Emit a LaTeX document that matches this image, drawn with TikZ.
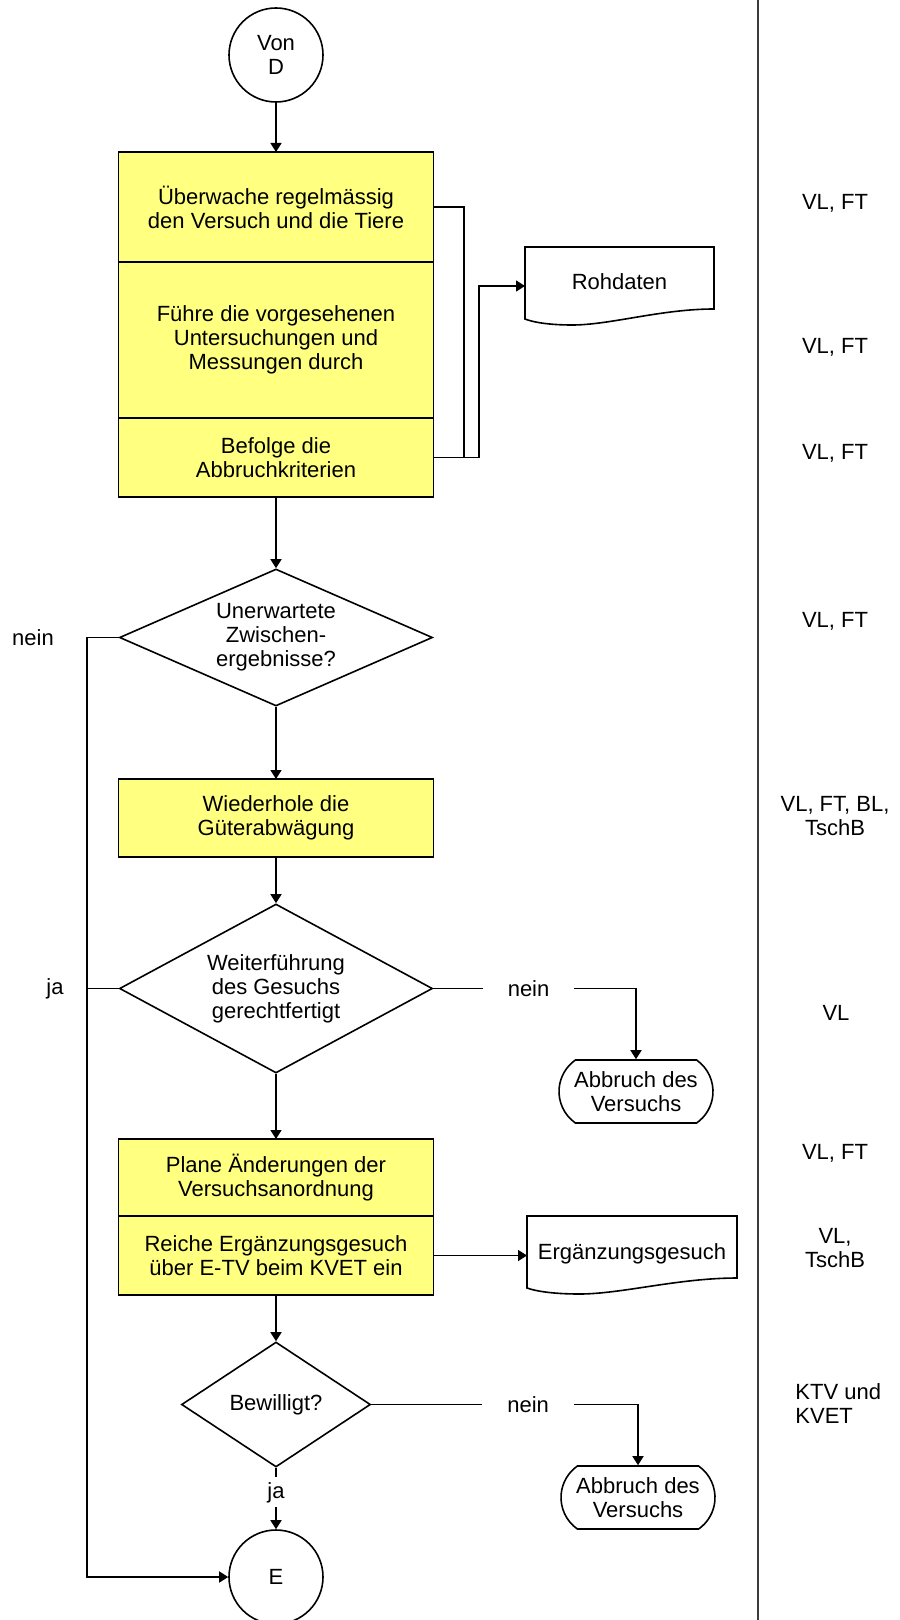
\documentclass[tikz,border=0pt]{standalone}
\usepackage{fontspec}
\setmainfont{Liberation Sans}
\usetikzlibrary{arrows.meta,shapes.geometric,shapes.misc,calc}

\definecolor{boxfill}{RGB}{255,255,128}
\definecolor{sepline}{RGB}{60,60,60}

% outline of a document symbol (flat top, wavy bottom) around a node
\newcommand\docoutline[1]{%
  \draw[conn] (#1.north west) -- (#1.north east)
    -- ($(#1.south east)+(0,-16)$)
    .. controls ($(#1.south west)!0.72!(#1.south east)+(0,-16)$)
            and ($(#1.south west)!0.45!(#1.south east)$)
    .. ($(#1.south west)!0.25!(#1.south east)$)
    .. controls ($(#1.south west)!0.12!(#1.south east)$)
            and ($(#1.south west)!0.04!(#1.south east)+(0,-3)$)
    .. ($(#1.south west)+(0,-6)$) -- cycle;}

\begin{document}
\begin{tikzpicture}[x=0.5pt,y=-0.5pt,
  every node/.style={font=\fontsize{11pt}{12pt}\selectfont, align=center},
  conn/.style={line width=0.8pt, draw=black},
  arr/.style={conn, -{Triangle[length=4.5pt,width=5.5pt]}},
  stepbox/.style={rectangle, draw, line width=0.8pt, fill=boxfill,
    inner sep=2pt, outer sep=0pt, minimum width=157.5pt},
  connector/.style={circle, draw, line width=0.8pt, minimum size=47pt, inner sep=0pt},
  decision/.style={diamond, draw, line width=0.8pt, inner sep=0pt},
  docnode/.style={rectangle, minimum height=39pt, inner sep=0pt, outer sep=0pt},
  terminal/.style={rounded rectangle, rounded rectangle arc length=110, draw,
    line width=0.8pt, minimum width=79pt, minimum height=31.5pt, inner sep=1pt},
  onlineh/.style={fill=white, inner xsep=12.5pt, inner ysep=1pt},
  onlinev/.style={fill=white, inner xsep=1pt, inner ysep=2.4pt},
  role/.style={inner sep=0pt}
]
\useasboundingbox (0,0) rectangle (899,1620);

% column separator
\coordinate (septop) at (758,0);
\coordinate (sepbot) at (758,1620);
\draw[sepline, line width=0.9pt] (septop) -- (sepbot);

% main column
\node[connector] (vonD) at (276,55) {Von\\D};
\node[stepbox, minimum height=55pt] (box1a) at (276,207) {Überwache regelmässig\\den Versuch und die Tiere};
\node[stepbox, minimum height=78pt] (box1b) at (276,340) {Führe die vorgesehenen\\Untersuchungen und\\Messungen durch};
\node[stepbox, minimum height=39.5pt] (box1c) at (276,457.5) {Befolge die\\Abbruchkriterien};
\node[docnode, minimum width=94.5pt] (rohdaten) at (619.5,286) {\raisebox{4pt}{Rohdaten}};
\node[decision, shape aspect=2.28, minimum width=156.5pt, minimum height=68.5pt] (d1) at (276,637.5) {Unerwartete\\Zwischen-\\ergebnisse?};
\node[stepbox, minimum height=39pt] (box2) at (276,818) {Wiederhole die\\Güterabwägung};
\node[decision, shape aspect=1.85, minimum width=156.5pt, minimum height=84.5pt] (d2) at (276,988.5) {Weiterführung\\des Gesuchs\\gerechtfertigt};
\node[terminal] (stop1) at (636,1091.5) {Abbruch des\\Versuchs};
\node[stepbox, minimum height=38.5pt] (box3a) at (276,1177.5) {Plane Änderungen der\\Versuchsanordnung};
\node[stepbox, minimum height=39.5pt] (box3b) at (276,1255.5) {Reiche Ergänzungsgesuch\\über E-TV beim KVET ein};
\node[docnode, minimum width=105pt] (erg) at (632,1255) {\raisebox{3.5pt}{Ergänzungsgesuch}};
\node[decision, shape aspect=1.5, minimum width=94.5pt, minimum height=62.5pt] (d3) at (276,1404.5) {Bewilligt?};
\node[terminal] (stop2) at (638,1497.5) {Abbruch des\\Versuchs};
\node[connector] (E) at (276,1577) {E};

% document symbols
\docoutline{rohdaten}
\docoutline{erg}

% left branch labels
\node (nein1) at (33,638) {nein};
\node (ja1) at (55,989) {ja};

% responsibilities
\node[role] (r1) at (835,203) {VL, FT};
\node[role] (r2) at (835,347) {VL, FT};
\node[role] (r3) at (835,453) {VL, FT};
\node[role] (r4) at (835,621) {VL, FT};
\node[role] (r5) at (835,816) {VL, FT, BL,\\TschB};
\node[role] (r6) at (836,1013) {VL};
\node[role] (r7) at (835,1153) {VL, FT};
\node[role] (r8) at (835,1248) {VL,\\TschB};
\node[role, align=left, anchor=west] (r9) at (795,1404) {KTV und\\KVET};

% main flow
\draw[arr] (vonD.south) -- (box1a.north);
\draw[arr] (box1c.south) -- (d1.north);
\draw[arr] (d1.south) -- (box2.north);
\draw[arr] (box2.south) -- (d2.north);
\draw[arr] (d2.south) -- (box3a.north);
\draw[arr] (box3b.south) -- (d3.north);
\draw[arr] (d3.south) -- node[pos=0.4, onlinev] (ja2) {ja} (E.north);

% feedback lines to the raw data
\coordinate (fbx1) at (464,0);
\coordinate (fbx2) at (479,0);
\draw[conn] (box1a.east) -| (fbx1 |- box1c.east) -- (box1c.east);
\draw[arr] (box1c.east) -| (fbx2 |- rohdaten.west) -- (rohdaten.west);

% supplementary request
\draw[arr] (box3b.east) -- (box3b.east -| erg.west);

% "nein" exits to termination
\draw[arr] (d2.east) -- node[pos=0.47, onlineh] (nein2) {nein} (d2.east -| stop1.north) -- (stop1.north);
\draw[arr] (d3.east) -- node[pos=0.588, onlineh] (nein3) {nein} (d3.east -| stop2.north) -- (stop2.north);

% left bypass to E
\coordinate (loopx) at (87,0);
\draw[arr] (d1.west) -| (loopx |- E.west) -- (E.west);
\draw[conn] (d2.west) -- (loopx |- d2.west);
\end{tikzpicture}
\end{document}
